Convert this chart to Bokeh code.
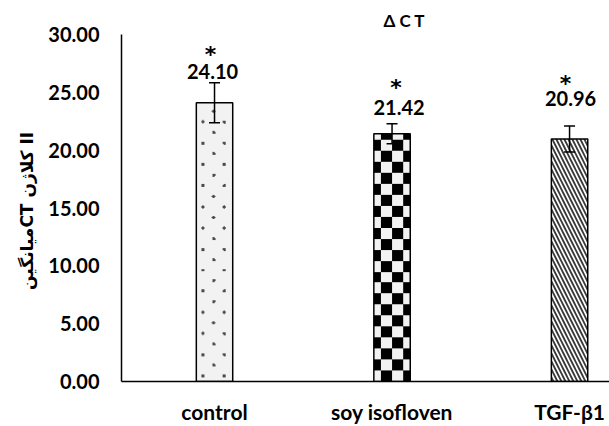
import numpy as np
from bokeh.plotting import figure
from bokeh.models import (ColumnDataSource, Whisker, TeeHead, FixedTicker,
                          PrintfTickFormatter, Range1d, LinearColorMapper)
from bokeh.core.properties import value
from bokeh.embed import file_html
from bokeh.resources import INLINE

# ---- data ----
categories = ["control", "soy isofloven", "TGF-\u03b21"]
means = [24.10, 21.42, 20.96]
errors = [1.72, 0.86, 1.12]
value_labels = ["24.10", "21.42", "20.96"]
star_labels = ["*", "*", "*"]
y_ticks = [0, 5, 10, 15, 20, 25, 30]

# ---- styling / placement ----
label_heights = [26.76, 23.67, 24.44]
star_heights = [28.3, 25.45, 25.75]
label_dx = [-2, 7, 1]
star_dx = [-4, 4, -4]

W, H = 609, 426
BL, BR, BT, BB = 121, 0, 34, 43
X0, X1 = -0.024, 2.725
Y0, Y1 = 0, 30
PX_X = (W - BL - BR) / (X1 - X0)
PX_Y = (H - BT - BB) / (Y1 - Y0)
bar_w = 0.205

xs = [i + 0.5 for i in range(len(categories))]

src = ColumnDataSource(dict(
    x=xs, top=means,
    upper=[m + e for m, e in zip(means, errors)],
    lower=[m - e for m, e in zip(means, errors)],
    lab=value_labels, lab_y=label_heights, lab_dx=label_dx,
    star=star_labels, star_y=star_heights, star_dx=star_dx,
))

FONT = "Lato"

p = figure(width=W, height=H, output_backend="svg", toolbar_location=None,
           x_range=Range1d(X0, X1), y_range=Range1d(Y0, Y1),
           min_border_left=BL, min_border_right=BR, min_border_top=BT,
           min_border_bottom=BB)
p.outline_line_color = None
p.xgrid.visible = False
p.ygrid.visible = False
p.background_fill_color = "white"
p.border_fill_color = "white"


def texture(kind, height_val):
    """pixel-level fill texture for a bar of the given data height"""
    nh = max(1, int(round(height_val * PX_Y)))
    nw = max(1, int(round(bar_w * PX_X)))
    ii, jj = np.mgrid[0:nh, 0:nw]
    if kind == "checker":
        return (((ii // 11) + ((jj + 4) // 11)) % 2).astype(float)
    # staggered dots
    s = 10.6
    arr = np.zeros((nh, nw))
    for r in range(int(nh / s) + 2):
        for c in range(int(nw / s) + 2):
            if (r + c) % 2:
                continue
            cx, cy = 6 + c * s, 5 + r * s
            arr[(jj - cx) ** 2 + (ii - cy) ** 2 <= 2.6] = 1.0
    return arr


dot_map = LinearColorMapper(palette=["#f2f2f2", "#4a4a4a"], low=0, high=1)
chk_map = LinearColorMapper(palette=["#f2f2f2", "#000000"], low=0, high=1)

# control: dotted
p.image(image=[texture("dots", means[0])], x=xs[0] - bar_w / 2, y=0,
        dw=bar_w, dh=means[0], color_mapper=dot_map)
# soy: checkerboard
p.image(image=[texture("checker", means[1])], x=xs[1] - bar_w / 2, y=0,
        dw=bar_w, dh=means[1], color_mapper=chk_map)
# TGF: diagonal hatch
p.vbar(x=[xs[2]], top=[means[2]], width=bar_w, fill_color="white",
       line_color=None,
       hatch_pattern="left_diagonal_line", hatch_scale=8, hatch_weight=1.9,
       hatch_color="#3a3a3a")
# outlines
p.vbar(x="x", top="top", width=bar_w, source=src, fill_color=None,
       line_color="black", line_width=1.5)

w = Whisker(base="x", upper="upper", lower="lower", source=src,
            line_color="black", line_width=1.5, level="overlay",
            upper_head=TeeHead(size=11, line_width=1.5, line_color="black"),
            lower_head=TeeHead(size=11, line_width=1.5, line_color="black"))
p.add_layout(w)

p.text(x="x", y="lab_y", text="lab", source=src, x_offset="lab_dx",
       text_align="center", text_baseline="middle", text_font=value(FONT),
       text_font_style="bold", text_font_size="20px", text_color="black")
p.text(x="x", y="star_y", text="star", source=src, x_offset="star_dx",
       text_align="center", text_baseline="middle",
       text_font=value("DejaVu Sans"), text_font_style="bold",
       text_font_size="22px", text_color="black")

p.title.text = "\u0394 C T"
p.title.align = "left"
p.title.offset = 262
p.title.standoff = 7
p.title.text_font = FONT
p.title.text_font_style = "bold"
p.title.text_font_size = "17px"
p.title.text_color = "black"

# axes
p.xaxis.ticker = FixedTicker(ticks=xs)
p.xaxis.major_label_overrides = {x: c for x, c in zip(xs, categories)}
p.xaxis.major_tick_line_color = None
p.xaxis.minor_tick_line_color = None
p.xaxis.major_tick_out = 0
p.xaxis.axis_line_color = "black"
p.xaxis.axis_line_width = 1.5
p.xaxis.major_label_text_font = FONT
p.xaxis.major_label_text_font_style = "bold"
p.xaxis.major_label_text_font_size = "21px"
p.xaxis.major_label_text_color = "black"
p.xaxis.major_label_standoff = 17

p.yaxis.ticker = FixedTicker(ticks=y_ticks)
p.yaxis.formatter = PrintfTickFormatter(format="%.2f")
p.yaxis.major_tick_line_color = None
p.yaxis.minor_tick_line_color = None
p.yaxis.major_tick_out = 0
p.yaxis.axis_line_color = "black"
p.yaxis.axis_line_width = 1.5
p.yaxis.major_label_text_font = FONT
p.yaxis.major_label_text_font_style = "bold"
p.yaxis.major_label_text_font_size = "20px"
p.yaxis.major_label_text_color = "black"
p.yaxis.major_label_standoff = 22
p.yaxis.axis_label = "\u0645\u06cc\u0627\u0646\u06af\u06cc\u0646CT  \u06a9\u0644\u0627\u0698\u0646 II"
p.yaxis.axis_label_text_font = "DejaVu Sans"
p.yaxis.axis_label_text_font_style = "bold"
p.yaxis.axis_label_text_font_size = "17px"
p.yaxis.axis_label_text_color = "black"
p.yaxis.axis_label_standoff = 8

open("out.html", "w").write(file_html(p, INLINE))
